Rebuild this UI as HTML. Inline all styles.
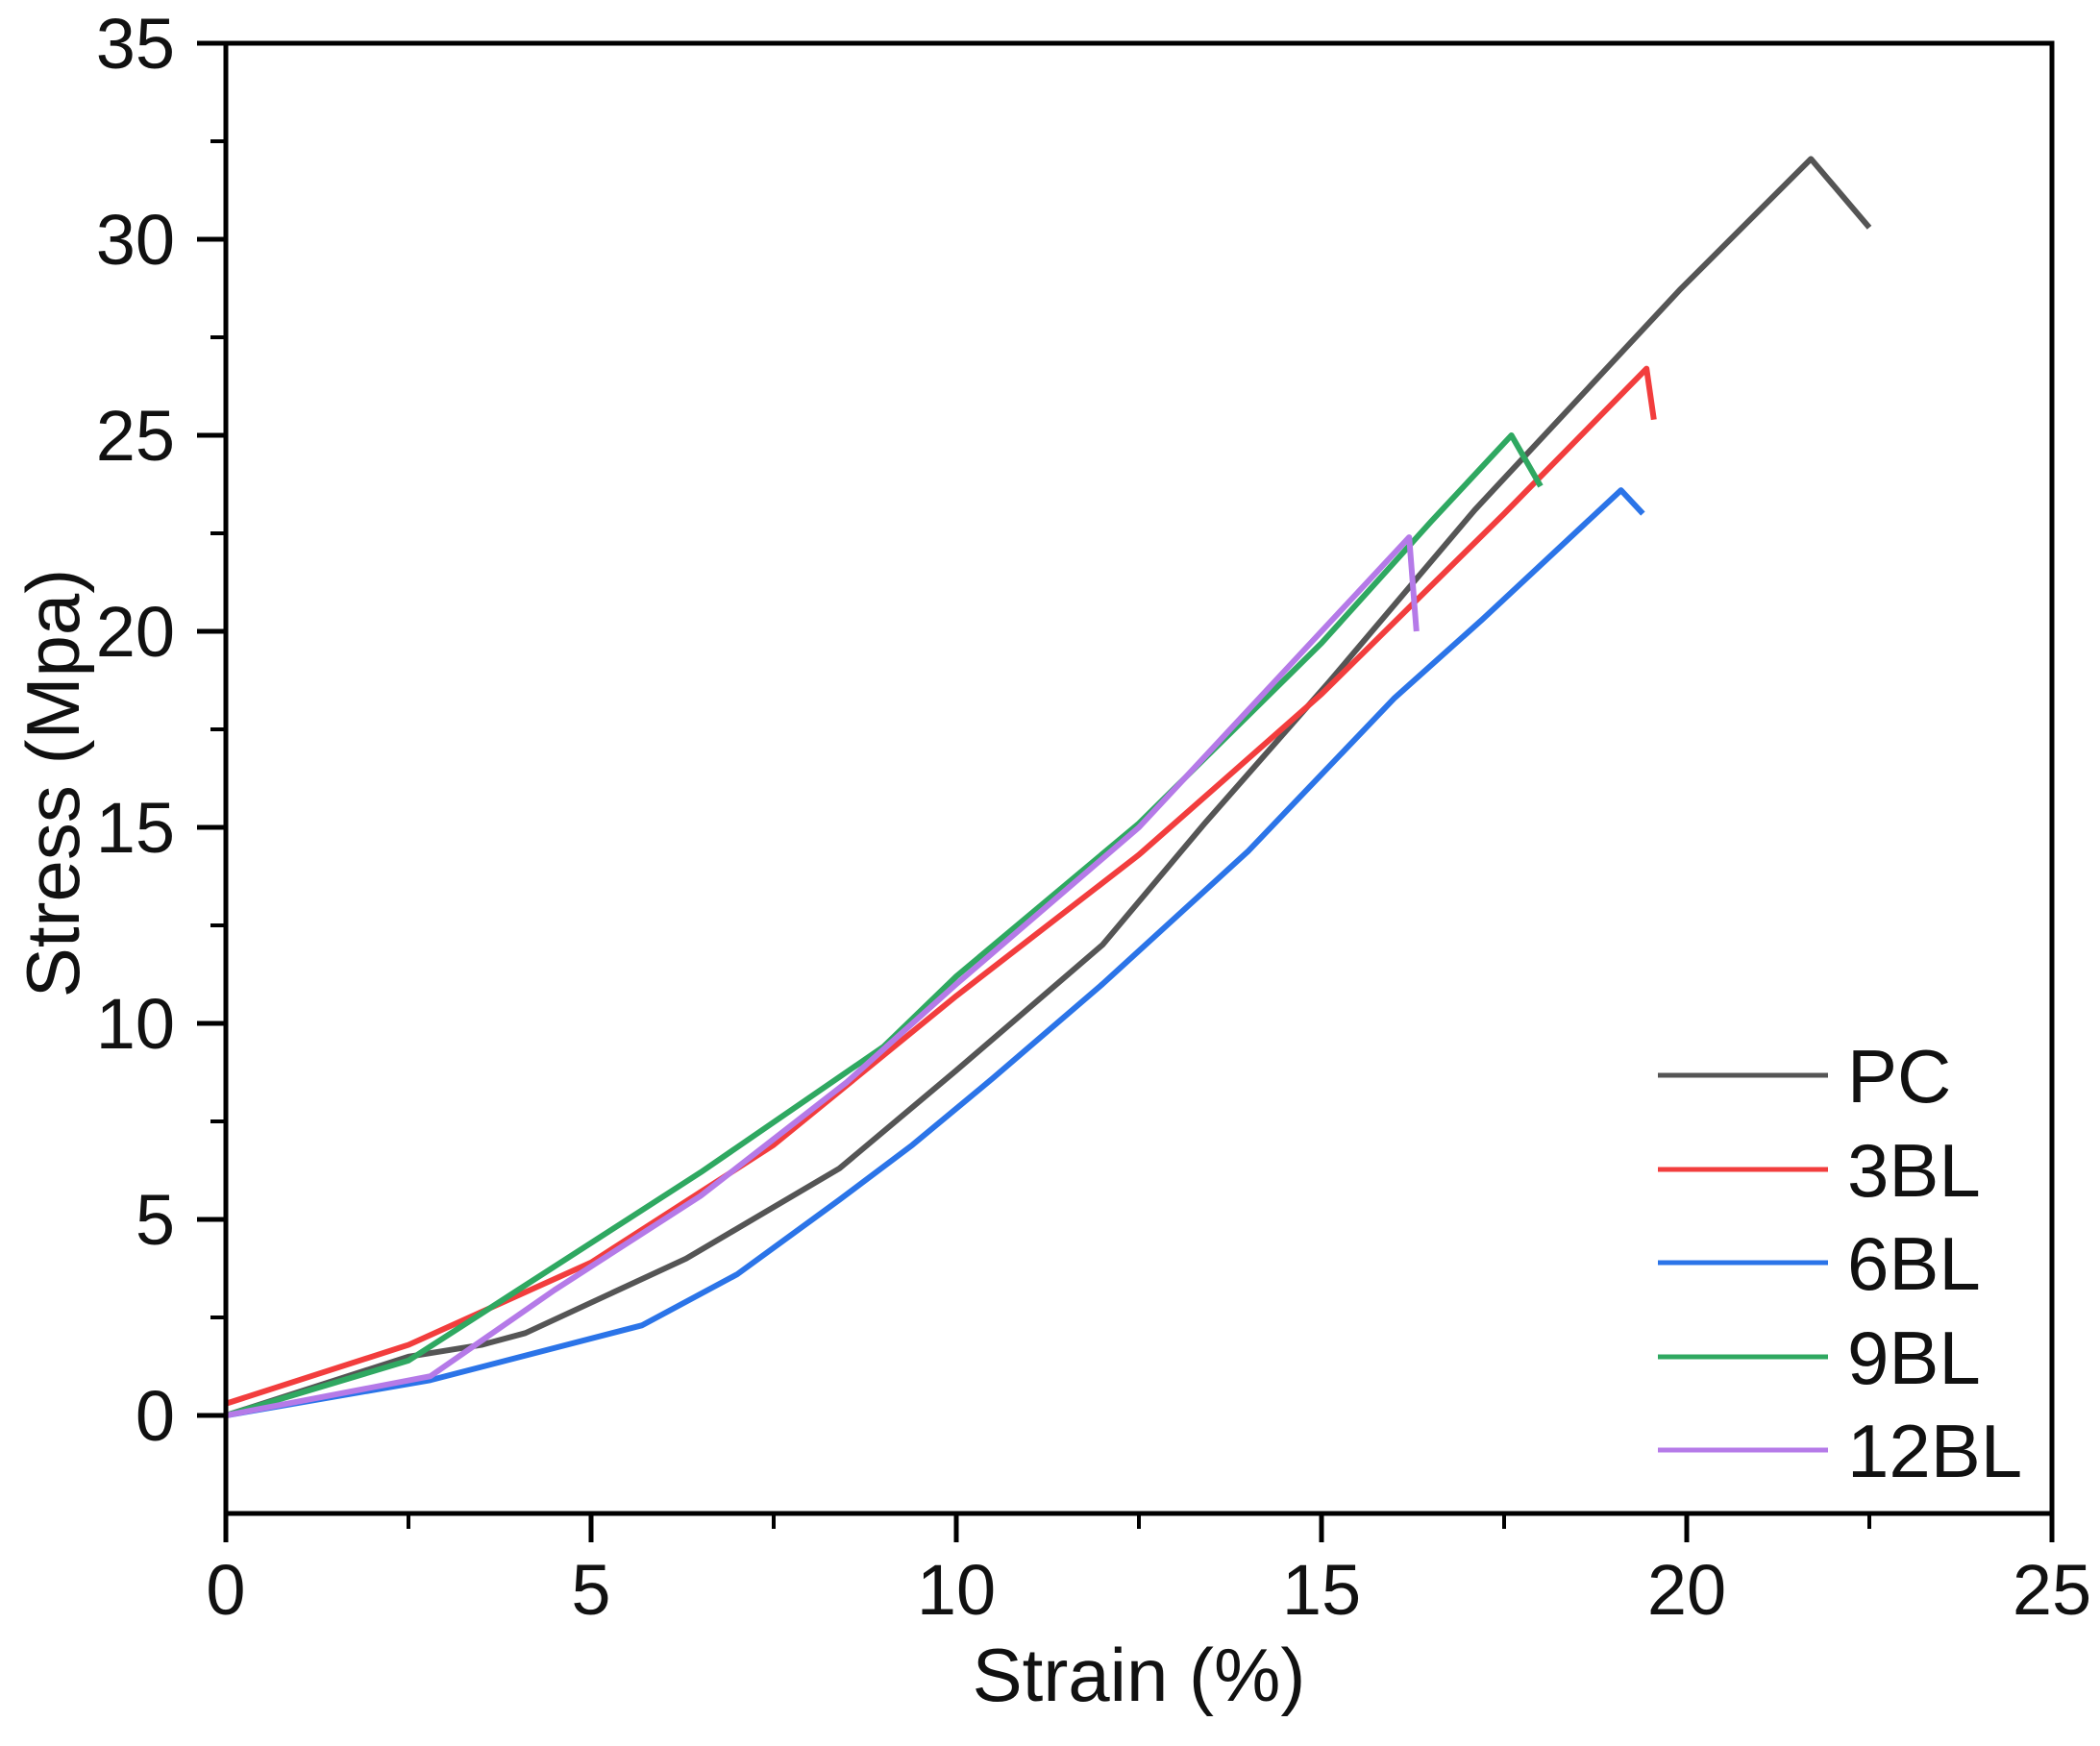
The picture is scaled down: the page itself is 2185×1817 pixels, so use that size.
<!DOCTYPE html>
<html><head><meta charset="utf-8"><style>
html,body{margin:0;padding:0;background:#fff;}
svg{display:block;font-family:"Liberation Sans",Arial,sans-serif;}
</style></head><body>
<svg id="chart" width="2185" height="1817" viewBox="0 0 2185 1817"></svg>
<script>
const seriesNames=["PC","3BL","6BL","9BL","12BL"];
const seriesColors=["#555555","#f23d3d","#2b74e8","#2fa861","#b57ae8"];
const pcX=[0,2.5,3.5,4.1,6.3,8.4,10,12,13.4,15.1,17.1,19.9,21.7,22.5];
const pcY=[0,1.5,1.8,2.1,4,6.3,8.8,12,15.1,18.7,23.1,28.7,32.05,30.3];
const bl3X=[0,2.5,5,7.5,10,12.5,15,17.5,19.45,19.55];
const bl3Y=[0.3,1.8,3.9,6.9,10.7,14.3,18.4,23,26.7,25.4];
const bl6X=[0,2.8,5.7,7,8.4,9.4,10.5,12,14,16,17.2,19.1,19.4];
const bl6Y=[0,0.9,2.3,3.6,5.5,6.9,8.6,11,14.4,18.3,20.3,23.6,23];
const bl9X=[0,2.5,4,6.5,9,10,12.5,15,16.5,17.6,18];
const bl9Y=[0,1.4,3.2,6.2,9.4,11.2,15.1,19.7,22.8,25,23.7];
const bl12X=[0,2.8,4.5,6.5,8.5,10,12.5,14.6,16.2,16.3];
const bl12Y=[0,1,3.2,5.6,8.5,11,15,19.2,22.4,20];
const xTicks=[0,5,10,15,20,25];
const yTicks=[0,5,10,15,20,25,30,35];

const L=235,R=2135,T=45,B=1575,xmin=0,xmax=25,ymin=-2.5,ymax=35;
const sx=v=>L+(v-xmin)/(xmax-xmin)*(R-L);
const sy=v=>B-(v-ymin)/(ymax-ymin)*(B-T);
const svg=document.getElementById('chart');
const NS="http://www.w3.org/2000/svg";
function mk(tag,attrs,parent){const e=document.createElementNS(NS,tag);for(const k in attrs)e.setAttribute(k,attrs[k]);(parent||svg).appendChild(e);return e;}

const allX=[pcX,bl3X,bl6X,bl9X,bl12X],allY=[pcY,bl3Y,bl6Y,bl9Y,bl12Y];
allX.forEach((xs,i)=>{
  const p=mk('polyline',{points:xs.map((x,j)=>sx(x)+','+sy(allY[i][j])).join(' '),fill:'none',stroke:seriesColors[i],'stroke-width':6,'stroke-linejoin':'round'});
  
  
});

const fr=mk('rect',{x:L,y:T,width:R-L,height:B-T,fill:'none',stroke:'#000','stroke-width':5});



xTicks.forEach(v=>{
  mk('line',{x1:sx(v),x2:sx(v),y1:B,y2:B+30,stroke:'#000','stroke-width':5});
  const t=mk('text',{x:sx(v),y:1680,'text-anchor':'middle','font-size':74,fill:'#111'});
  t.textContent=v;
  
  
});
for(let v=2.5;v<25;v+=5){mk('line',{x1:sx(v),x2:sx(v),y1:B,y2:B+16,stroke:'#000','stroke-width':4});}
yTicks.forEach(v=>{
  mk('line',{x1:L-30,x2:L,y1:sy(v),y2:sy(v),stroke:'#000','stroke-width':5});
  const t=mk('text',{x:182,y:sy(v)+26,'text-anchor':'end','font-size':74,fill:'#111'});
  t.textContent=v;
  
  
});
for(let v=2.5;v<35;v+=5){mk('line',{x1:L-16,x2:L,y1:sy(v),y2:sy(v),stroke:'#000','stroke-width':4});}

const xt=mk('text',{x:1185,y:1770,'text-anchor':'middle','font-size':78,fill:'#111'});
xt.textContent='Strain (%)';


const yt=mk('text',{x:0,y:0,'text-anchor':'middle','font-size':78,fill:'#111',transform:'translate(82,815) rotate(-90)'});
yt.textContent='Stress (Mpa)';



const legY=[1119,1217,1314,1412,1509];
seriesNames.forEach((n,i)=>{
  const g=mk('g',{});
  
  
  mk('line',{x1:1725,x2:1902,y1:legY[i],y2:legY[i],stroke:seriesColors[i],'stroke-width':5},g);
  const t=mk('text',{x:1922,y:legY[i]+28,'font-size':78,fill:'#111'},g);
  t.textContent=n;
});
</script>
</body></html>
